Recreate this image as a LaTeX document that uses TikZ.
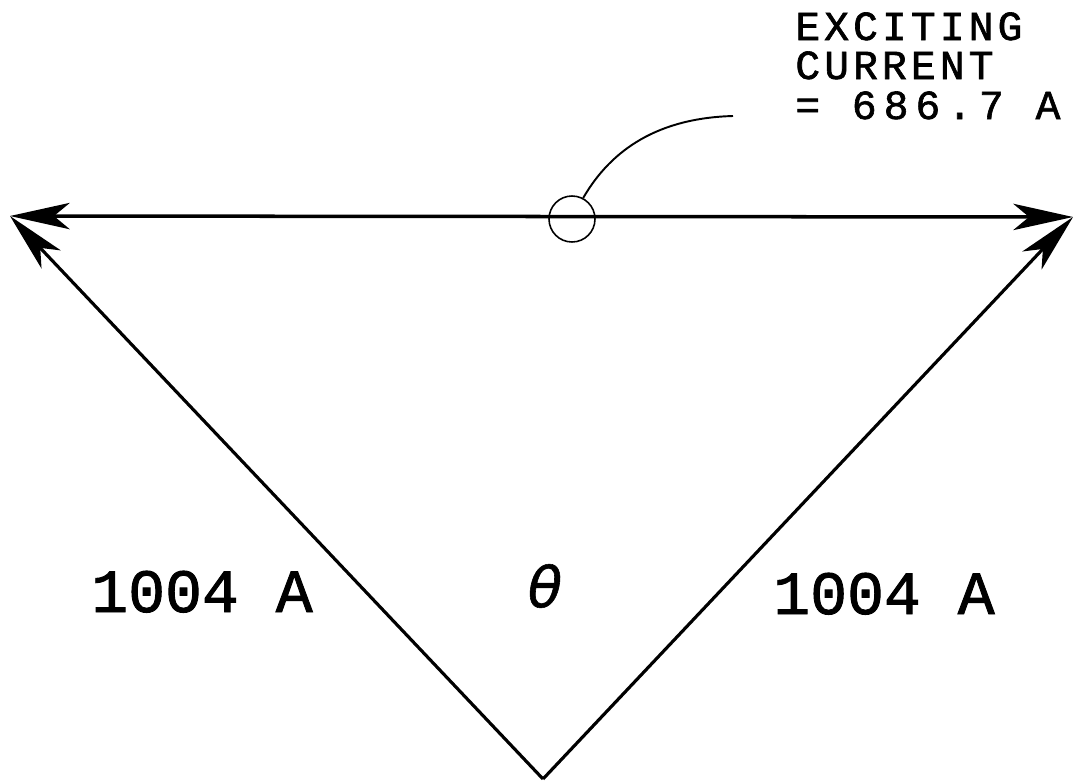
\documentclass[tikz,border=0pt]{standalone}
\usepackage{fontspec}
\usetikzlibrary{arrows.meta,positioning}
\newfontfamily\notefont[LetterSpace=10,FakeBold=1.5]{Liberation Mono}
\newfontfamily\widenotefont[LetterSpace=17,FakeBold=1.5]{Liberation Mono}
\newfontfamily\valfont[FakeBold=1.5]{Liberation Mono}
\newfontfamily\anglefont[FakeBold=1]{DejaVu Sans}

\begin{document}
\begin{tikzpicture}[x=0.02cm,y=-0.02cm,
    phasor/.style={line width=1.8pt,black,
                   {Stealth[length=34pt,width=15pt,inset=9pt]}-},
    bothway/.style={line width=2pt,black,
                    {Stealth[length=34pt,width=15pt,inset=9pt]}-{Stealth[length=34pt,width=15pt,inset=9pt]}},
    ring/.style={draw,circle,line width=0.9pt,minimum size=0.92cm,inner sep=0pt},
    leader/.style={line width=1.1pt},
    note/.style={font=\notefont\fontsize{23.5}{28}\selectfont,inner sep=0pt,
                 text height=15pt,text depth=0pt,anchor=base west},
    val/.style={font=\valfont\fontsize{35}{40}\selectfont,inner sep=0pt,anchor=base}]

    \useasboundingbox (0,0) rectangle (1075,782);

    \coordinate (west) at (10,216);
    \coordinate (east) at (1073,217);
    \coordinate (apex) at (543,779);

    \draw[bothway] (west) -- (east);
    \draw[phasor] (west) -- (apex);
    \draw[phasor] (east) -- (apex);

    \node[ring] (ring) at (572,219) {};
    \coordinate (tail) at (733,116);
    \draw[leader] (ring.62) .. controls (612,148) and (660,118) .. (tail);

    \node[note] (excite) at (795,40) {EXCITING};
    \node[note] (current) at (795,79) {CURRENT};
    \node[note,font=\widenotefont\fontsize{23.5}{28}\selectfont] (amps) at (795,119) {= 686.7 A};

    \node[val] (leftval) at (202,612) {1004 A};
    \node[val] (rightval) at (884,614) {1004 A};
    \node[font=\anglefont\itshape\fontsize{32}{36}\selectfont,inner sep=0pt] (theta) at (545,586) {θ};
\end{tikzpicture}
\end{document}
